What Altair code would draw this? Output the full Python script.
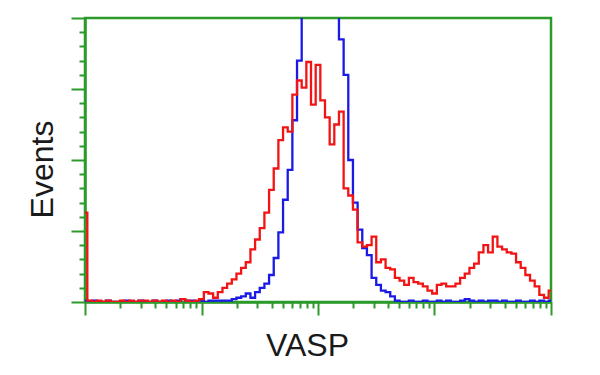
import altair as alt
import pandas as pd

# Log-channel grid: decade exponent of each histogram channel (0 .. 4, step 0.04)
exponents = [i * 0.04 for i in range(101)]

red_counts = [63, 1, 0, 1, 0, 1, 0, 0, 1, 0,
              1, 0, 1, 1, 0, 1, 0, 1, 0, 1,
              0, 2, 1, 0, 1, 2, 7, 6, 3, 7,
              10, 13, 16, 20, 24, 28, 37, 44, 52, 63,
              79, 94, 114, 123, 120, 146, 156, 151, 169, 139,
              167, 142, 130, 111, 125, 134, 80, 75, 65, 42,
              39, 40, 46, 28, 30, 24, 23, 17, 15, 12,
              17, 14, 13, 11, 8, 6, 12, 13, 11, 11,
              13, 17, 20, 24, 27, 35, 40, 35, 46, 39,
              37, 35, 34, 28, 24, 19, 15, 11, 5, 3,
              8]

blue_counts = [1, 0, 1, 0, 0, 1, 0, 0, 0, 1,
               0, 0, 1, 0, 0, 1, 0, 0, 1, 0,
               1, 2, 1, 1, 0, 1, 0, 1, 1, 1,
               1, 1, 2, 3, 4, 6, 3, 7, 10, 13,
               19, 31, 49, 72, 93, 128, 170, 220, 260, 290,
               300, 300, 290, 270, 230, 185, 160, 100, 70, 51,
               38, 33, 17, 12, 8, 7, 4, 1, 0, 0,
               1, 0, 0, 1, 0, 0, 1, 0, 1, 0,
               0, 1, 2, 1, 0, 1, 0, 1, 1, 0,
               1, 0, 0, 1, 0, 0, 1, 0, 1, 0,
               1]

series_names = ["Control", "VASP"]
series_colors = ["#1a1ae6", "#f21414"]

x_ticks = [m * 10 ** d for d in range(4) for m in range(1, 10)] + [10000]
y_ticks = list(range(0, 201, 10))

rows = []
for e, r, b in zip(exponents, red_counts, blue_counts):
    x = 10 ** e
    rows.append({"x": x, "count": b, "series": "Control"})
    rows.append({"x": x, "count": r, "series": "VASP"})
df = pd.DataFrame(rows)

GREEN = "#2b9a2b"

x_enc = alt.X(
    "x:Q",
    scale=alt.Scale(type="log", domain=[1, 10000], nice=False),
    axis=alt.Axis(
        title="VASP",
        values=x_ticks,
        labels=False,
        grid=False,
        domainColor=GREEN,
        domainWidth=2.5,
        tickColor=GREEN,
        tickWidth=2,
        tickSize={"condition": {"test": "indexof([1,10,100,1000,10000], datum.value) >= 0", "value": 13}, "value": 6},
        titleFont="Liberation Sans",
        titleFontSize=32,
        titleFontWeight="normal",
        titleColor="#1a1a1a",
        titleX=222,
        titleY=53,
        titleAlign="center",
        titleBaseline="alphabetic",
    ),
)

y_enc = alt.Y(
    "count:Q",
    scale=alt.Scale(domain=[0, 200], nice=False),
    axis=alt.Axis(
        title="Events",
        values=y_ticks,
        labels=False,
        grid=False,
        domainColor=GREEN,
        domainWidth=2.5,
        tickColor=GREEN,
        tickWidth=2,
        tickSize={"condition": {"test": "datum.value % 50 == 0", "value": 14}, "value": 6},
        titleFont="Liberation Sans",
        titleFontSize=32,
        titleFontWeight="normal",
        titleColor="#1a1a1a",
        titleAngle=-90,
        titleX=-33,
        titleY=151,
        titleAlign="center",
        titleBaseline="alphabetic",
    ),
)

color_enc = alt.Color("series:N", scale=alt.Scale(domain=series_names, range=series_colors), legend=None)

base = alt.Chart(df).mark_line(interpolate="step", strokeWidth=2.3, clip=True).encode(
    x=x_enc, y=y_enc, color=color_enc
)

blue_layer = base.transform_filter(alt.datum.series == "Control")
red_layer = base.transform_filter(alt.datum.series == "VASP")

chart = (
    alt.layer(blue_layer, red_layer)
    .properties(
        width=466,
        height=284,
        autosize="none",
        padding={"left": 77, "top": 10, "right": 25, "bottom": 62},
        background="white",
    )
    .configure_view(stroke=GREEN, strokeWidth=2.5)
)

chart.save("out.html", embed_options={"renderer": "svg", "actions": False})
